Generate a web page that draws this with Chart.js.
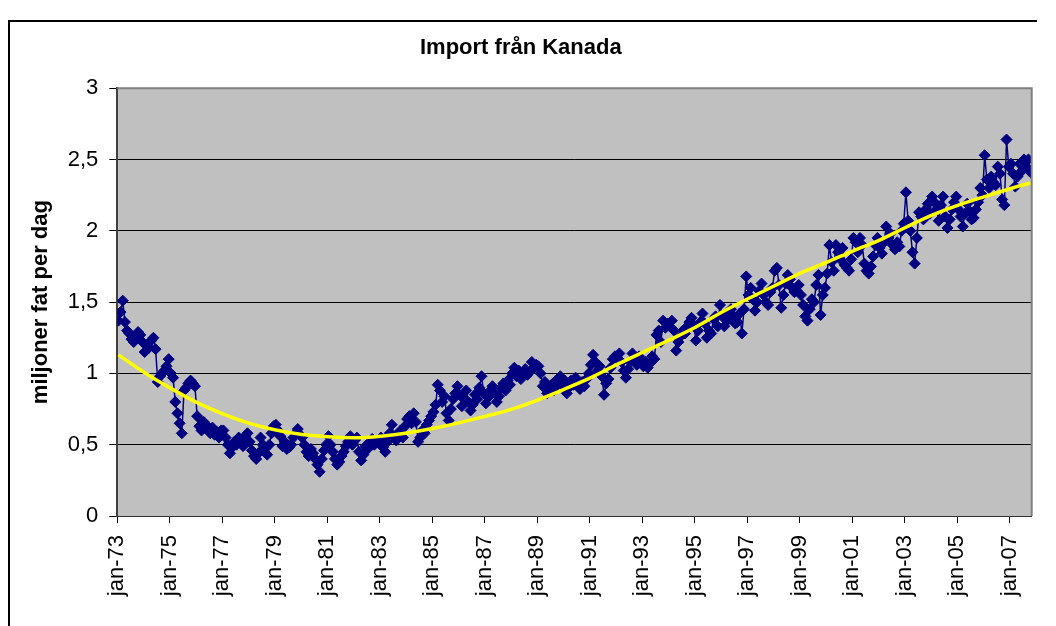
<!DOCTYPE html>
<html><head><meta charset="utf-8">
<script src="https://cdn.jsdelivr.net/npm/chart.js@4.4.1/dist/chart.umd.min.js"></script>
<style>html,body{margin:0;padding:0;background:#fff;}canvas{display:block;}</style>
</head><body>
<canvas id="c" width="1056" height="626"></canvas>
<script>
// Monthly import from Canada, million barrels per day (Jan 1973 - Oct 2007)
const y1973 = [1.37,1.43,1.51,1.36,1.30,1.28,1.24,1.22,1.25,1.29,1.27,1.22];
const y1974 = [1.15,1.20,1.18,1.23,1.25,1.17,0.94,0.98,1.00,1.02,1.05,1.10];
const y1975 = [1.00,0.97,0.80,0.72,0.65,0.58,0.88,0.90,0.93,0.95,0.93,0.91];
const y1976 = [0.70,0.63,0.60,0.66,0.64,0.60,0.58,0.62,0.57,0.59,0.55,0.60];
const y1977 = [0.60,0.55,0.50,0.44,0.48,0.52,0.50,0.55,0.53,0.49,0.56,0.58];
const y1978 = [0.52,0.46,0.42,0.40,0.44,0.55,0.50,0.47,0.43,0.50,0.58,0.63];
const y1979 = [0.64,0.60,0.56,0.49,0.52,0.47,0.48,0.50,0.55,0.58,0.61,0.57];
const y1980 = [0.55,0.50,0.45,0.42,0.47,0.44,0.40,0.36,0.31,0.40,0.46,0.50];
const y1981 = [0.56,0.50,0.45,0.40,0.36,0.38,0.42,0.45,0.49,0.52,0.56,0.50];
const y1982 = [0.53,0.55,0.45,0.39,0.43,0.49,0.47,0.52,0.54,0.50,0.53,0.51];
const y1983 = [0.55,0.48,0.45,0.52,0.58,0.64,0.56,0.53,0.58,0.60,0.55,0.63];
const y1984 = [0.68,0.70,0.65,0.72,0.66,0.52,0.55,0.60,0.58,0.64,0.67,0.70];
const y1985 = [0.73,0.78,0.92,0.88,0.80,0.84,0.72,0.67,0.75,0.82,0.86,0.91];
const y1986 = [0.85,0.77,0.82,0.88,0.80,0.74,0.78,0.85,0.82,0.90,0.98,0.86];
const y1987 = [0.79,0.83,0.88,0.91,0.86,0.80,0.84,0.90,0.93,0.88,0.95,0.92];
const y1988 = [1.00,1.04,0.98,1.02,0.96,1.00,1.03,0.99,1.01,1.08,1.04,1.06];
const y1989 = [1.05,1.00,0.91,0.94,0.86,0.90,0.92,0.88,0.95,0.93,0.98,0.91];
const y1990 = [0.95,0.86,0.90,0.95,0.92,0.97,0.93,0.89,0.94,0.91,0.96,1.00];
const y1991 = [1.06,1.13,1.08,1.02,1.05,0.98,0.85,0.93,0.96,1.04,1.10,1.12];
const y1992 = [1.10,1.14,1.08,1.02,0.97,1.03,1.08,1.14,1.10,1.06,1.12,1.08];
const y1993 = [1.05,1.08,1.04,1.07,1.12,1.10,1.27,1.30,1.22,1.37,1.32,1.35];
const y1994 = [1.33,1.37,1.30,1.16,1.22,1.26,1.30,1.28,1.33,1.36,1.39,1.34];
const y1995 = [1.23,1.30,1.36,1.42,1.35,1.25,1.30,1.28,1.38,1.40,1.33,1.48];
const y1996 = [1.40,1.33,1.42,1.38,1.45,1.40,1.35,1.36,1.42,1.28,1.45,1.68];
const y1997 = [1.55,1.60,1.52,1.44,1.50,1.58,1.63,1.55,1.50,1.48,1.57,1.60];
const y1998 = [1.72,1.74,1.62,1.46,1.55,1.63,1.69,1.66,1.60,1.57,1.58,1.62];
const y1999 = [1.55,1.48,1.40,1.37,1.45,1.52,1.50,1.62,1.69,1.41,1.55,1.60];
const y2000 = [1.70,1.90,1.78,1.72,1.90,1.85,1.80,1.88,1.76,1.74,1.72,1.80];
const y2001 = [1.95,1.92,1.85,1.95,1.90,1.77,1.72,1.70,1.75,1.82,1.90,1.95];
const y2002 = [1.88,1.84,1.92,2.03,1.95,1.98,1.90,1.87,1.92,1.89,2.00,2.05];
const y2003 = [2.27,2.07,2.00,1.85,1.77,1.95,2.13,2.10,2.08,2.15,2.19,2.12];
const y2004 = [2.24,2.20,2.15,2.07,2.18,2.24,2.10,2.02,2.08,2.15,2.20,2.24];
const y2005 = [2.15,2.10,2.03,2.12,2.19,2.14,2.08,2.09,2.15,2.20,2.30,2.25];
const y2006 = [2.53,2.36,2.30,2.38,2.34,2.32,2.45,2.40,2.22,2.18,2.64,2.45];
const y2007 = [2.47,2.40,2.31,2.38,2.47,2.42,2.50,2.45,2.50,2.41];

const importValues = [].concat(y1973,y1974,y1975,y1976,y1977,y1978,y1979,y1980,y1981,y1982,
  y1983,y1984,y1985,y1986,y1987,y1988,y1989,y1990,y1991,y1992,y1993,y1994,y1995,y1996,
  y1997,y1998,y1999,y2000,y2001,y2002,y2003,y2004,y2005,y2006,y2007);

// Trendline (polynomial) at month index
const trendMonths = [0,12,24,36,48,60,72,84,96,108,120,132,144,156,168,180,192,204,216,228,
  240,252,264,276,288,300,312,324,336,348,360,372,384,396,408,417];
const trendValues = [1.13,1.005,0.895,0.795,0.715,0.65,0.603,0.572,0.555,0.549,0.56,0.582,
  0.615,0.655,0.70,0.75,0.815,0.89,0.97,1.063,1.15,1.235,1.325,1.43,1.525,1.615,1.705,1.78,
  1.86,1.935,2.025,2.11,2.18,2.24,2.297,2.335];

const tickLabels = ['jan-73','jan-75','jan-77','jan-79','jan-81','jan-83','jan-85','jan-87','jan-89',
  'jan-91','jan-93','jan-95','jan-97','jan-99','jan-01','jan-03','jan-05','jan-07'];
const yTicks = [0,0.5,1,1.5,2,2.5,3];

const FONT = '"Liberation Sans", Arial, sans-serif';
const nMonths = importValues.length;

const plotBg = {
  id: 'plotBg',
  beforeDraw(chart) {
    const {ctx, chartArea: a} = chart;
    ctx.save();
    ctx.fillStyle = '#C0C0C0';
    ctx.fillRect(a.left, a.top, a.right - a.left, a.bottom - a.top);
    // outer frame of the chart object
    ctx.strokeStyle = '#000';
    ctx.lineWidth = 2;
    ctx.beginPath();
    ctx.moveTo(9, 626);
    ctx.lineTo(9, 21);
    ctx.lineTo(1037, 21);
    ctx.stroke();
    ctx.restore();
  },
  afterDatasetsDraw(chart) {
    const {ctx, chartArea: a} = chart;
    ctx.save();
    ctx.strokeStyle = '#808080';
    ctx.lineWidth = 2;
    ctx.beginPath();
    ctx.moveTo(a.left, a.top);
    ctx.lineTo(a.right, a.top);
    ctx.lineTo(a.right, a.bottom);
    ctx.stroke();
    ctx.restore();
  }
};

new Chart(document.getElementById('c'), {
  type: 'line',
  data: {
    datasets: [
      {
        label: 'Trend',
        data: trendMonths.map((m, i) => ({x: m + 0.5, y: trendValues[i]})),
        borderColor: '#FFFF00',
        borderWidth: 3.5,
        pointRadius: 0,
        cubicInterpolationMode: 'monotone',
        fill: false,
        order: 0
      },
      {
        label: 'Import från Kanada',
        data: importValues.map((v, i) => ({x: i + 0.5, y: v})),
        borderColor: '#000080',
        borderWidth: 1.5,
        pointStyle: 'rectRot',
        pointRadius: 5.5,
        pointBackgroundColor: '#000080',
        pointBorderColor: '#000080',
        pointBorderWidth: 1,
        tension: 0,
        fill: false,
        order: 1
      }
    ]
  },
  options: {
    responsive: false,
    animation: false,
    layout: {padding: {left: 10, right: 24.3, top: 0, bottom: 0}},
    plugins: {
      legend: {display: false},
      tooltip: {enabled: false},
      title: {
        display: true,
        text: 'Import från Kanada',
        color: '#000',
        font: {family: FONT, size: 22, weight: 'bold', lineHeight: 1.2},
        padding: {top: 35, bottom: 26.8}
      }
    },
    scales: {
      x: {
        type: 'linear',
        min: 0,
        max: nMonths,
        afterBuildTicks: s => { s.ticks = tickLabels.map((l, k) => ({value: 24 * k})); },
        afterFit: s => { s.height = 110; },
        ticks: {
          autoSkip: false,
          maxRotation: 90,
          minRotation: 90,
          padding: 12,
          color: '#000',
          font: {family: FONT, size: 22},
          callback: v => tickLabels[Math.round(v / 24)]
        },
        grid: {drawOnChartArea: false, drawTicks: true, tickLength: 7, color: '#000', lineWidth: 1},
        border: {display: true, color: '#333', width: 1}
      },
      y: {
        min: 0,
        max: 3,
        afterBuildTicks: s => { s.ticks = yTicks.map(v => ({value: v})); },
        afterFit: s => { s.width = 107.3; },
        ticks: {
          padding: 11,
          color: '#000',
          font: {family: FONT, size: 22},
          callback: v => String(v).replace('.', ',')
        },
        grid: {
          color: ctx => (ctx.tick && ctx.tick.value === 3) ? '#808080' : '#000',
          lineWidth: 1,
          tickLength: 8,
          tickColor: '#000'
        },
        border: {display: true, color: '#404040', width: 2},
        title: {
          display: true,
          text: 'miljoner fat per dag',
          color: '#000',
          font: {family: FONT, size: 22, weight: 'bold', lineHeight: 1.2},
          padding: {top: 18, bottom: 0}
        }
      }
    }
  },
  plugins: [plotBg]
});
</script>
</body></html>
